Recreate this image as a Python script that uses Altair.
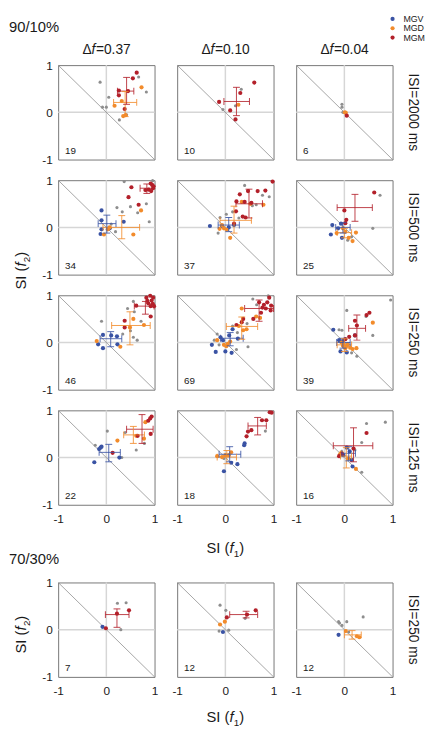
import altair as alt
import pandas as pd

FONT = "Liberation Sans"
GROUPS = ["MGV", "MGD", "MGM"]
GROUP_COLORS = ["#3a53a4", "#f28b2b", "#b3202a"]
GRAY = "#8e8e8e"
SECTIONS = ["90/10%", "70/30%"]
DF_LABELS = ["0.37", "0.10", "0.04"]
ISI_LABELS = ["ISI=2000 ms", "ISI=500 ms", "ISI=250 ms", "ISI=125 ms"]
ISI_LABEL_B = "ISI=250 ms"
TICKS = [-1, 0, 1]
AXIS_X_SUB = "1"
AXIS_Y_SUB = "2"

# ---------- 90/10%, ISI=2000 ms ----------
R1C1_GRAY = [(-0.13, 0.64), (-0.08, 0.11), (0.0, 0.11), (0.05, 0.32), (0.67, 0.75), (0.83, 0.43), (0.27, -0.16), (0.42, -0.05)]
R1C1_MGV = []
R1C1_MGD = [(0.73, 0.53), (0.32, 0.24), (0.17, 0.14), (0.35, -0.08), (0.40, -0.06)]
R1C1_MGM = [(0.63, 0.84), (0.55, 0.72), (0.26, 0.46), (0.26, 0.36), (0.45, 0.45), (0.38, 0.07)]
R1C1_ERR = [("MGD", 0.39, 0.21, 0.15, 0.63, -0.09, 0.44), ("MGM", 0.42, 0.45, 0.23, 0.57, 0.17, 0.74)]

R1C2_GRAY = [(0.33, 0.49), (-0.05, 0.06), (0.21, 0.14)]
R1C2_MGV = []
R1C2_MGD = [(0.27, 0.16)]
R1C2_MGM = [(0.60, 0.63), (0.31, 0.41), (-0.13, 0.22), (0.10, 0.04), (0.21, -0.15)]
R1C2_ERR = [("MGM", 0.23, 0.23, -0.03, 0.50, -0.07, 0.53)]

R1C3_GRAY = [(-0.05, 0.17), (-0.05, 0.11), (-0.03, 0.0)]
R1C3_MGV = []
R1C3_MGD = [(0.01, 0.0), (0.03, -0.01)]
R1C3_MGM = [(0.05, -0.07)]
R1C3_ERR = []

# ---------- 90/10%, ISI=500 ms ----------
R2C1_GRAY = [(0.37, 0.97), (0.96, 0.99), (0.83, 0.50), (0.50, 0.44), (0.22, 0.42), (0.33, 0.33), (0.65, 0.31), (0.89, 0.12), (0.10, 0.07), (0.05, 0.0), (0.19, -0.09)]
R2C1_MGV = [(-0.10, 0.36), (-0.10, 0.15), (-0.10, -0.04), (-0.12, -0.14), (0.36, 0.12), (0.07, -0.02)]
R2C1_MGD = [(0.72, 0.36), (0.56, -0.15), (0.03, -0.04), (-0.05, -0.15), (0.07, 0.0)]
R2C1_MGM = [(0.52, 0.85), (0.46, 0.64), (0.67, 0.48), (0.81, 0.79), (0.88, 0.80), (0.92, 0.93), (0.95, 0.90), (0.97, 0.83), (0.93, 0.77), (0.98, 0.87)]
R2C1_ERR = [("MGV", 0.01, 0.08, -0.17, 0.20, -0.12, 0.26), ("MGD", 0.32, 0.0, -0.07, 0.69, -0.24, 0.25), ("MGM", 0.84, 0.83, 0.70, 0.96, 0.72, 0.92)]

R2C2_GRAY = [(0.40, 0.89), (0.77, 0.68), (0.91, 0.65), (0.64, 0.48), (0.56, 0.46), (0.02, 0.28), (-0.11, 0.21), (-0.15, -0.12), (0.15, 0.33), (0.28, 0.20)]
R2C2_MGV = [(-0.32, 0.03), (-0.07, 0.03), (0.07, 0.0), (0.18, 0.05)]
R2C2_MGD = [(0.34, 0.54), (0.52, 0.50), (0.79, 0.48), (-0.07, 0.05), (-0.03, -0.02), (0.03, -0.05), (0.10, -0.22), (-0.12, -0.03)]
R2C2_MGM = [(0.98, 0.97), (0.67, 0.77), (0.83, 0.78), (0.47, 0.77), (0.30, 0.70), (0.23, 0.55), (0.40, 0.54), (0.54, 0.52), (0.22, 0.34), (0.36, 0.23), (0.42, 0.21), (0.18, 0.08)]
R2C2_ERR = [("MGV", 0.07, 0.05, -0.15, 0.29, -0.09, 0.21), ("MGD", 0.18, 0.15, -0.11, 0.54, -0.12, 0.45), ("MGM", 0.49, 0.50, 0.22, 0.77, 0.20, 0.81)]

R2C3_GRAY = [(0.74, 0.68), (0.59, -0.02), (0.07, -0.27), (0.15, -0.20)]
R2C3_MGV = [(-0.25, 0.05), (-0.28, -0.15), (-0.07, 0.08), (-0.05, -0.22), (-0.13, -0.02)]
R2C3_MGD = [(-0.16, -0.12), (0.02, -0.09), (0.09, -0.22), (0.17, -0.29), (0.24, -0.11), (-0.03, -0.02)]
R2C3_MGM = [(0.62, 0.74), (0.0, 0.36), (0.04, 0.16), (0.02, 0.09)]
R2C3_ERR = [("MGV", -0.03, 0.0, -0.18, 0.12, -0.12, 0.10), ("MGD", 0.0, -0.11, -0.15, 0.15, -0.22, -0.02), ("MGM", 0.22, 0.42, -0.15, 0.58, 0.13, 0.70)]

# ---------- 90/10%, ISI=250 ms ----------
R3C1_GRAY = [(0.56, 0.87), (0.44, 0.72), (0.58, 0.65), (0.72, 0.45), (-0.10, 0.45), (0.34, 0.18), (0.64, 0.05), (0.56, 0.11), (0.50, 0.25)]
R3C1_MGV = [(-0.07, 0.16), (0.10, 0.15), (0.22, 0.13), (-0.17, -0.04), (-0.07, -0.12), (0.23, -0.04)]
R3C1_MGD = [(0.56, 0.50), (0.78, 0.37), (0.29, -0.09), (-0.20, 0.03), (0.49, 0.32)]
R3C1_MGM = [(0.83, 0.95), (0.91, 0.99), (0.97, 0.95), (0.94, 0.89), (0.96, 0.82), (0.87, 0.83), (0.92, 0.77), (0.99, 0.77), (0.92, 0.55), (0.38, 0.46), (0.38, 0.32), (0.62, 0.78), (0.85, 0.88)]
R3C1_ERR = [("MGV", 0.09, 0.08, -0.13, 0.32, -0.09, 0.23), ("MGD", 0.49, 0.36, 0.11, 0.91, -0.05, 0.65), ("MGM", 0.81, 0.77, 0.58, 0.99, 0.60, 0.87)]

R3C2_GRAY = [(0.57, 0.92), (0.89, 0.99), (0.15, 0.35), (0.25, 0.21), (-0.17, 0.18), (0.47, -0.09), (0.23, -0.15), (-0.23, 0.05), (-0.13, -0.05), (0.65, 0.80), (0.45, 0.40)]
R3C2_MGV = [(-0.28, -0.05), (-0.20, -0.20), (0.0, -0.19), (0.13, -0.22), (-0.10, 0.11), (0.15, 0.28), (0.26, 0.08), (-0.05, 0.05), (0.08, 0.15)]
R3C2_MGD = [(0.34, 0.72), (0.72, 0.52), (0.64, 0.55), (0.44, 0.28), (0.37, 0.26), (-0.17, 0.05), (-0.03, -0.05), (0.02, -0.08), (0.05, -0.03), (0.10, 0.02), (0.28, 0.35)]
R3C2_MGM = [(0.70, 0.85), (0.77, 0.74), (0.87, 0.85), (0.91, 0.95), (0.84, 0.72), (0.94, 0.68), (0.74, 0.63), (0.37, 0.50), (0.34, 0.43), (0.23, 0.37), (0.58, 0.50), (0.80, 0.80), (0.95, 0.78)]
R3C2_ERR = [("MGV", 0.10, 0.09, -0.10, 0.37, -0.07, 0.21), ("MGD", 0.34, 0.34, 0.02, 0.67, 0.07, 0.54), ("MGM", 0.70, 0.72, 0.40, 1.0, 0.45, 0.90)]

R3C3_GRAY = [(0.96, 0.90), (0.05, 0.68), (0.59, 0.15), (-0.11, 0.27), (-0.05, 0.26), (0.26, -0.29), (0.15, -0.22), (0.45, 0.55)]
R3C3_MGV = [(-0.23, 0.27), (0.22, 0.15), (-0.11, 0.05), (-0.08, -0.19), (0.05, -0.21), (-0.03, 0.03)]
R3C3_MGD = [(0.59, 0.42), (-0.06, 0.0), (-0.03, -0.07), (0.02, -0.12), (0.07, -0.04), (0.12, -0.11), (0.17, -0.14), (0.25, -0.12), (-0.02, -0.03), (0.04, -0.08)]
R3C3_MGM = [(0.52, 0.63), (0.46, 0.58), (0.22, 0.46), (0.26, 0.36), (0.22, 0.15), (0.02, 0.07), (0.10, 0.12)]
R3C3_ERR = [("MGV", -0.03, 0.0, -0.16, 0.12, -0.12, 0.09), ("MGD", 0.0, -0.05, -0.15, 0.15, -0.19, 0.08), ("MGM", 0.26, 0.30, 0.09, 0.44, 0.05, 0.58)]

# ---------- 90/10%, ISI=125 ms ----------
R4C1_GRAY = [(0.02, 0.56), (0.39, 0.53), (-0.23, 0.26), (0.62, 0.16), (0.32, 0.0), (0.79, 0.30)]
R4C1_MGV = [(-0.15, 0.18), (-0.12, 0.21), (-0.10, 0.23), (-0.25, -0.10), (0.27, 0.0)]
R4C1_MGD = [(0.81, 0.75), (0.62, 0.46), (0.23, 0.36), (0.78, 0.40)]
R4C1_MGM = [(0.94, 0.87), (0.91, 0.83), (0.87, 0.78), (0.92, 0.50), (0.65, 0.46), (0.13, 0.10)]
R4C1_ERR = [("MGV", 0.05, 0.11, -0.15, 0.29, -0.09, 0.28), ("MGD", 0.56, 0.48, 0.36, 0.79, 0.30, 0.66), ("MGM", 0.74, 0.60, 0.42, 0.97, 0.30, 0.91)]

R4C2_GRAY = [(0.83, 0.56), (-0.03, -0.02)]
R4C2_MGV = [(0.40, 0.30), (0.39, 0.26), (-0.03, -0.29), (0.25, -0.14), (0.12, -0.11)]
R4C2_MGD = [(-0.17, 0.03), (-0.07, 0.01), (0.0, 0.05), (0.07, 0.05), (0.12, 0.11)]
R4C2_MGM = [(0.96, 0.95), (0.92, 0.96), (0.85, 0.79), (0.76, 0.79), (0.54, 0.58), (0.47, 0.55), (0.44, 0.45)]
R4C2_ERR = [("MGV", 0.09, 0.07, -0.13, 0.32, -0.09, 0.23), ("MGD", 0.03, 0.01, -0.17, 0.23, -0.13, 0.15), ("MGM", 0.67, 0.67, 0.47, 0.85, 0.48, 0.85)]

R4C3_GRAY = [(0.46, 0.72), (0.85, 0.75), (0.36, 0.32), (0.22, 0.16), (0.36, -0.31)]
R4C3_MGV = [(0.05, 0.21), (0.11, 0.13), (0.15, -0.05), (0.17, -0.19), (-0.02, 0.05)]
R4C3_MGD = [(-0.09, 0.07), (-0.06, 0.11), (0.24, -0.24), (0.08, -0.02)]
R4C3_MGM = [(0.46, 0.52), (-0.11, 0.03), (0.19, 0.19), (-0.05, 0.08)]
R4C3_ERR = [("MGV", 0.09, 0.09, -0.05, 0.23, -0.07, 0.23), ("MGD", 0.04, 0.03, -0.08, 0.15, -0.22, 0.21), ("MGM", 0.19, 0.25, -0.23, 0.59, -0.09, 0.63)]

# ---------- 70/30%, ISI=250 ms ----------
B1_GRAY = [(0.23, 0.56), (0.41, 0.57), (0.30, 0.0)]
B1_MGV = [(-0.08, 0.06)]
B1_MGD = []
B1_MGM = [(0.47, 0.41), (0.22, 0.34), (-0.01, 0.03)]
B1_ERR = [("MGM", 0.22, 0.32, -0.02, 0.47, 0.05, 0.44)]

B2_GRAY = [(-0.11, 0.52), (0.01, 0.41), (0.41, 0.24), (-0.13, -0.03), (0.07, -0.01)]
B2_MGV = [(-0.05, -0.05)]
B2_MGD = [(-0.01, 0.17), (-0.11, 0.11)]
B2_MGM = [(0.63, 0.41), (0.45, 0.32), (0.03, 0.26)]
B2_ERR = [("MGM", 0.43, 0.32, 0.09, 0.67, 0.25, 0.39)]

B3_GRAY = [(-0.12, 0.17), (-0.10, 0.14), (-0.05, 0.09), (0.05, 0.17), (0.39, 0.27), (0.09, -0.05)]
B3_MGV = [(-0.12, -0.11)]
B3_MGD = [(0.03, -0.03), (0.26, -0.14), (0.31, -0.16)]
B3_MGM = []
B3_ERR = [("MGD", 0.16, -0.11, 0.0, 0.35, -0.20, -0.02)]

COUNTS_TOP = [[19, 10, 6], [34, 37, 25], [46, 69, 39], [22, 18, 16]]
COUNTS_BOTTOM = [7, 12, 12]

DIAG = {"x": [-1], "y": [1], "x2": [1], "y2": [-1]}

# ---------------------------------------------------------------
W, H = 98, 96
ROW_GAP, COL_GAP, SECTION_GAP = 21, 23, 79
TXT = "#1a1a1a"
cscale = alt.Scale(domain=GROUPS, range=GROUP_COLORS)


def enc_x(field, show):
    ax = None
    if show:
        ax = alt.Axis(values=TICKS, labelExpr="'' + datum.value", grid=False, ticks=False,
                      tickSize=0, domain=False, labelPadding=9, labelFlush=False,
                      labelFontSize=12, labelFont=FONT, labelColor=TXT)
    return alt.X(field, type="quantitative", axis=ax, title=None,
                 scale=alt.Scale(domain=[-1, 1], nice=False, zero=False))


def enc_y(field, show):
    ax = None
    if show:
        ax = alt.Axis(values=TICKS, labelExpr="'' + datum.value", grid=False, ticks=False,
                      tickSize=0, domain=False, labelPadding=6, labelFlush=False,
                      labelFontSize=12, labelFont=FONT, labelColor=TXT)
    return alt.Y(field, type="quantitative", axis=ax, title=None,
                 scale=alt.Scale(domain=[-1, 1], nice=False, zero=False))


def txt(s, x, y, size, angle=0, align="left", baseline="alphabetic", style="normal"):
    mk = dict(align=align, baseline=baseline, fontSize=size, font=FONT, fontStyle=style, color=TXT)
    if angle:
        mk["angle"] = angle
    return alt.Chart(pd.DataFrame({"t": [s]})).mark_text(**mk).encode(
        x=alt.value(x), y=alt.value(y), text="t:N")


def title_pieces(sub, size=15):
    return [("SI (", size, "normal", 1.556 * size, 0),
            ("f", size, "italic", 0.30 * size, 0),
            (sub, 10, "normal", 0.556 * 10, 4),
            (")", size, "normal", 0.333 * size, 0)]


def xtitle(sub, cx, base):
    parts = title_pieces(sub)
    total = sum(p[3] for p in parts)
    x0 = cx - total / 2
    out = []
    for s, fs, st, w, off in parts:
        out.append(txt(s, x0, base + off, fs, style=st))
        x0 += w
    return out


def ytitle(sub, bx, cy):
    parts = title_pieces(sub)
    total = sum(p[3] for p in parts)
    y0 = cy + total / 2
    out = []
    for s, fs, st, w, off in parts:
        out.append(txt(s, bx + off, y0, fs, angle=270, style=st))
        y0 -= w
    return out


def col_header(val, y=-11, size=14):
    c = W / 2
    return [txt("\u0394", c - 15, y, size, align="right"),
            txt("f", c - 15, y, size, style="italic"),
            txt("=" + val, c - 10.6, y, size)]


def legend_layers():
    out = []
    for i, g in enumerate(GROUPS):
        yy = -47 + 9.5 * i
        out.append(alt.Chart(pd.DataFrame({"g": [g]})).mark_circle(size=18, opacity=1).encode(
            x=alt.value(W), y=alt.value(yy),
            color=alt.Color("g:N", scale=cscale, legend=None)))
        out.append(txt(g, W + 11, yy, 9, baseline="middle"))
    return out


def pts_df(lst):
    return pd.DataFrame({"x": [p[0] for p in lst], "y": [p[1] for p in lst]})


def panel(gray, mgv, mgd, mgm, errs, n, show_x, show_y, extras=()):
    X = lambda f: enc_x(f, show_x)
    Y = lambda f: enc_y(f, show_y)
    col = alt.Color("g:N", scale=cscale, legend=None)
    zero = pd.DataFrame({"v": [0]})
    layers = [
        alt.Chart(zero).mark_rule(color="#d6d6d6", strokeWidth=1.5).encode(x=X("v")),
        alt.Chart(zero).mark_rule(color="#d6d6d6", strokeWidth=1.5).encode(y=Y("v")),
        alt.Chart(pd.DataFrame(DIAG)).mark_rule(color="#8f8f8f", strokeWidth=0.8).encode(
            x=X("x"), y=Y("y"), x2="x2:Q", y2="y2:Q"),
    ]
    if gray:
        layers.append(alt.Chart(pts_df(gray)).mark_circle(size=10, color=GRAY, opacity=1).encode(
            x=X("x"), y=Y("y")))
    rows = []
    for g, lst in (("MGV", mgv), ("MGD", mgd), ("MGM", mgm)):
        for p in lst:
            rows.append({"x": p[0], "y": p[1], "g": g})
    if rows:
        layers.append(alt.Chart(pd.DataFrame(rows)).mark_circle(size=18, opacity=1).encode(
            x=X("x"), y=Y("y"), color=col))
    if errs:
        edf = pd.DataFrame(errs, columns=["g", "cx", "cy", "xlo", "xhi", "ylo", "yhi"])
        base = alt.Chart(edf)
        layers += [
            base.mark_rule(strokeWidth=1, opacity=0.85).encode(x=X("xlo"), x2="xhi:Q", y=Y("cy"), color=col),
            base.mark_rule(strokeWidth=1, opacity=0.85).encode(x=X("cx"), y=Y("ylo"), y2="yhi:Q", color=col),
            base.mark_tick(orient="vertical", size=7, thickness=1, opacity=0.85).encode(x=X("xlo"), y=Y("cy"), color=col),
            base.mark_tick(orient="vertical", size=7, thickness=1, opacity=0.85).encode(x=X("xhi"), y=Y("cy"), color=col),
            base.mark_tick(orient="horizontal", size=7, thickness=1, opacity=0.85).encode(x=X("cx"), y=Y("ylo"), color=col),
            base.mark_tick(orient="horizontal", size=7, thickness=1, opacity=0.85).encode(x=X("cx"), y=Y("yhi"), color=col),
        ]
    layers.append(alt.Chart(pd.DataFrame({"n": [str(n)]})).mark_text(
        align="left", baseline="alphabetic", fontSize=10, font=FONT, color=TXT).encode(
        x=alt.value(7), y=alt.value(H - 6), text="n:N"))
    layers += list(extras)
    return alt.layer(*layers).properties(width=W, height=H)


TOP = [
    [(R1C1_GRAY, R1C1_MGV, R1C1_MGD, R1C1_MGM, R1C1_ERR),
     (R1C2_GRAY, R1C2_MGV, R1C2_MGD, R1C2_MGM, R1C2_ERR),
     (R1C3_GRAY, R1C3_MGV, R1C3_MGD, R1C3_MGM, R1C3_ERR)],
    [(R2C1_GRAY, R2C1_MGV, R2C1_MGD, R2C1_MGM, R2C1_ERR),
     (R2C2_GRAY, R2C2_MGV, R2C2_MGD, R2C2_MGM, R2C2_ERR),
     (R2C3_GRAY, R2C3_MGV, R2C3_MGD, R2C3_MGM, R2C3_ERR)],
    [(R3C1_GRAY, R3C1_MGV, R3C1_MGD, R3C1_MGM, R3C1_ERR),
     (R3C2_GRAY, R3C2_MGV, R3C2_MGD, R3C2_MGM, R3C2_ERR),
     (R3C3_GRAY, R3C3_MGV, R3C3_MGD, R3C3_MGM, R3C3_ERR)],
    [(R4C1_GRAY, R4C1_MGV, R4C1_MGD, R4C1_MGM, R4C1_ERR),
     (R4C2_GRAY, R4C2_MGV, R4C2_MGD, R4C2_MGM, R4C2_ERR),
     (R4C3_GRAY, R4C3_MGV, R4C3_MGD, R4C3_MGM, R4C3_ERR)],
]
BOTTOM = [(B1_GRAY, B1_MGV, B1_MGD, B1_MGM, B1_ERR),
          (B2_GRAY, B2_MGV, B2_MGD, B2_MGM, B2_ERR),
          (B3_GRAY, B3_MGV, B3_MGD, B3_MGM, B3_ERR)]

cells = []
for r, row in enumerate(TOP):
    for c, d in enumerate(row):
        extras = []
        if r == 0:
            extras += col_header(DF_LABELS[c])
            if c == 0:
                extras.append(txt(SECTIONS[0], -50, -34, 15))
            if c == 2:
                extras += legend_layers()
        if c == 2:
            extras.append(txt(ISI_LABELS[r], W + 21, H / 2, 14, angle=90, align="center", baseline="middle"))
        if r == 2 and c == 0:
            extras += ytitle(AXIS_Y_SUB, -33, -25)
        if r == 3 and c == 1:
            extras += xtitle(AXIS_X_SUB, W / 2, H + 49)
        cells.append(panel(*d, COUNTS_TOP[r][c], show_x=(r == 3), show_y=(c == 0), extras=extras))

# invisible spacer row between the two sections
spacer_h = SECTION_GAP - 2 * ROW_GAP
for c in range(3):
    cells.append(alt.Chart(pd.DataFrame({"k": [0]})).mark_point(opacity=0).encode(
        x=alt.value(0), y=alt.value(0)).properties(
        width=W, height=spacer_h, view=alt.ViewBackground(strokeOpacity=0)))

for c, d in enumerate(BOTTOM):
    extras = []
    if c == 0:
        extras.append(txt(SECTIONS[1], -50, -19, 15))
        extras += ytitle(AXIS_Y_SUB, -33, H / 2 + 5)
    if c == 1:
        extras += xtitle(AXIS_X_SUB, W / 2, H + 46)
    if c == 2:
        extras.append(txt(ISI_LABEL_B, W + 21, H / 2, 14, angle=90, align="center", baseline="middle"))
    cells.append(panel(*d, COUNTS_BOTTOM[c], show_x=True, show_y=(c == 0), extras=extras))

chart = alt.concat(*cells, columns=3, spacing={"row": ROW_GAP, "column": COL_GAP}, bounds="flush").properties(
    padding={"left": 0, "top": 0, "right": 0, "bottom": 0}
).configure_view(stroke="#767676", strokeWidth=1)

chart.save("out.html", embed_options={"renderer": "svg", "actions": False})
